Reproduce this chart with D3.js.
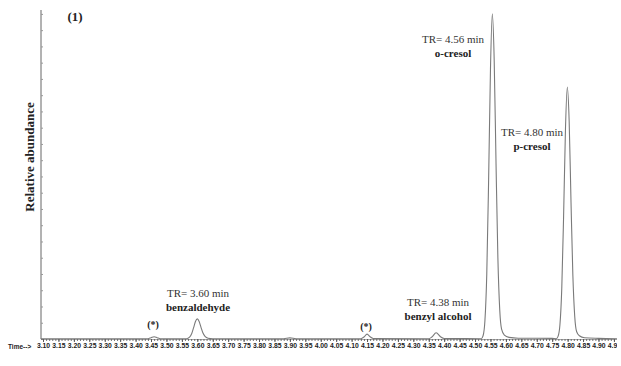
<!DOCTYPE html>
<html><head><meta charset="utf-8">
<script src="https://cdn.jsdelivr.net/npm/d3@7/dist/d3.min.js"></script>
<style>body{margin:0;background:#fff}svg{display:block}</style>
</head><body><svg id="c" width="621" height="366"></svg>
<script>
// Chromatogram trace: time (min) and relative abundance (%)
const traceTime = [3.093,3.30,3.44,3.45,3.46,3.47,3.48,3.565,3.575,3.582,3.588,3.594,3.600,3.606,3.612,3.618,3.625,3.635,3.65,3.88,3.90,3.92,4.13,4.14,4.15,4.16,4.17,4.35,4.36,4.374,4.388,4.40,4.52,4.526,4.532,4.538,4.544,4.550,4.556,4.562,4.568,4.574,4.580,4.586,4.595,4.61,4.64,4.70,4.75,4.763,4.769,4.775,4.781,4.787,4.793,4.799,4.805,4.811,4.817,4.823,4.829,4.838,4.855,4.90,4.96];
const traceAbund = [0.1,0.1,0.1,0.4,0.7,0.4,0.1,0.1,0.6,1.7,3.5,5.4,6.2,5.4,3.6,1.9,0.8,0.25,0.1,0.1,0.35,0.1,0.1,0.6,1.5,0.7,0.15,0.1,0.6,1.9,0.7,0.15,0.1,1,5.6,20,49,83,100,86,54,25,9,3,1.2,0.5,0.25,0.25,0.2,0.1,0.8,4.3,15.5,38,64.5,77.5,67,42,19.5,7,2.3,1,0.4,0.2,0.1];
const tickLabels = ["3.10","3.15","3.20","3.25","3.30","3.35","3.40","3.45","3.50","3.55","3.60","3.65","3.70","3.75","3.80","3.85","3.90","3.95","4.00","4.05","4.10","4.15","4.20","4.25","4.30","4.35","4.40","4.45","4.50","4.55","4.60","4.65","4.70","4.75","4.80","4.85","4.90","4.95"];
const peakNames = ["benzaldehyde","benzyl alcohol","o-cresol","p-cresol"];
const peakTR = ["TR= 3.60 min","TR= 4.38 min","TR= 4.56 min","TR= 4.80 min"];
const impurityTimes = [3.46, 4.15];

const svg = d3.select("#c");
const x = d3.scaleLinear().domain([3.0935, 4.96]).range([41, 617]);
const y = d3.scaleLinear().domain([0, 101.2]).range([339, 10]);

svg.append("defs").append("clipPath").attr("id","clipR")
  .append("rect").attr("x",0).attr("y",0).attr("width",617).attr("height",366);

// y axis line with small ticks
const yAxis = d3.axisLeft(y).tickValues(d3.range(0, 101, 5)).tickSize(2).tickFormat("");
const gy = svg.append("g").attr("transform","translate(41,0)").call(yAxis);
gy.select(".domain").attr("stroke","#666").attr("d","M0,10V339");
gy.selectAll(".tick line").attr("stroke","#999").attr("x2",2);

// x axis
const xMinor = d3.axisBottom(x).tickValues(d3.range(3.10, 4.96, 0.01)).tickSize(2).tickFormat("");
const gxm = svg.append("g").attr("transform","translate(0,339)").call(xMinor);
gxm.select(".domain").remove();
gxm.selectAll(".tick line").attr("stroke","#777");

const xAxis = d3.axisBottom(x).tickValues(tickLabels.map(Number)).tickSize(3)
  .tickFormat((d,i)=>tickLabels[i]);
const gx = svg.append("g").attr("transform","translate(0,339)").attr("clip-path","url(#clipR)").call(xAxis);
gx.select(".domain").attr("stroke","#555").attr("d","M41,0H617");
gx.selectAll(".tick line").attr("stroke","#555");
gx.selectAll(".tick text").attr("y",4).attr("font-family","Liberation Sans, Arial, sans-serif")
  .attr("font-size","6.8px").attr("font-weight","bold").attr("fill","#222");

svg.append("text").attr("x",8).attr("y",349).text("Time-->")
  .attr("font-family","Liberation Sans, Arial, sans-serif").attr("font-size","6.5px").attr("font-weight","bold").attr("fill","#222");

// trace
const pts = traceTime.map((t,i)=>[t, traceAbund[i]]);
svg.append("path").datum(pts)
  .attr("d", d3.line().x(d=>x(d[0])).y(d=>y(d[1])).curve(d3.curveMonotoneX))
  .attr("fill","none").attr("stroke","#7a7a7a").attr("stroke-width",1.1);

const serif = "Liberation Serif, Times New Roman, serif";
svg.append("text").attr("x",75).attr("y",21).attr("text-anchor","middle").text("(1)")
  .attr("font-family",serif).attr("font-size","13px").attr("font-weight","bold").attr("fill","#222");
svg.append("text").attr("transform","translate(34,157) rotate(-90)").attr("text-anchor","middle")
  .text("Relative abundance").attr("font-family",serif).attr("font-size","13px").attr("font-weight","bold").attr("fill","#222");

// peak labels
const labelPos = [[198,297],[438,306],[453,43],[532,136]];
peakNames.forEach((n,i)=>{
  const [cx,cy] = labelPos[i];
  svg.append("text").attr("x",cx).attr("y",cy).attr("text-anchor","middle").text(peakTR[i])
    .attr("font-family",serif).attr("font-size","11px").attr("fill","#333");
  svg.append("text").attr("x",cx).attr("y",cy+14).attr("text-anchor","middle").text(n)
    .attr("font-family",serif).attr("font-size","11px").attr("font-weight","bold").attr("fill","#222");
});
const impLabelY = [328, 330];
impurityTimes.forEach((t,i)=>{
  svg.append("text").attr("x",x(t)-1).attr("y",impLabelY[i]).attr("text-anchor","middle").text("(*)")
    .attr("font-family",serif).attr("font-size","10px").attr("font-weight","bold").attr("fill","#222");
});
</script></body></html>
